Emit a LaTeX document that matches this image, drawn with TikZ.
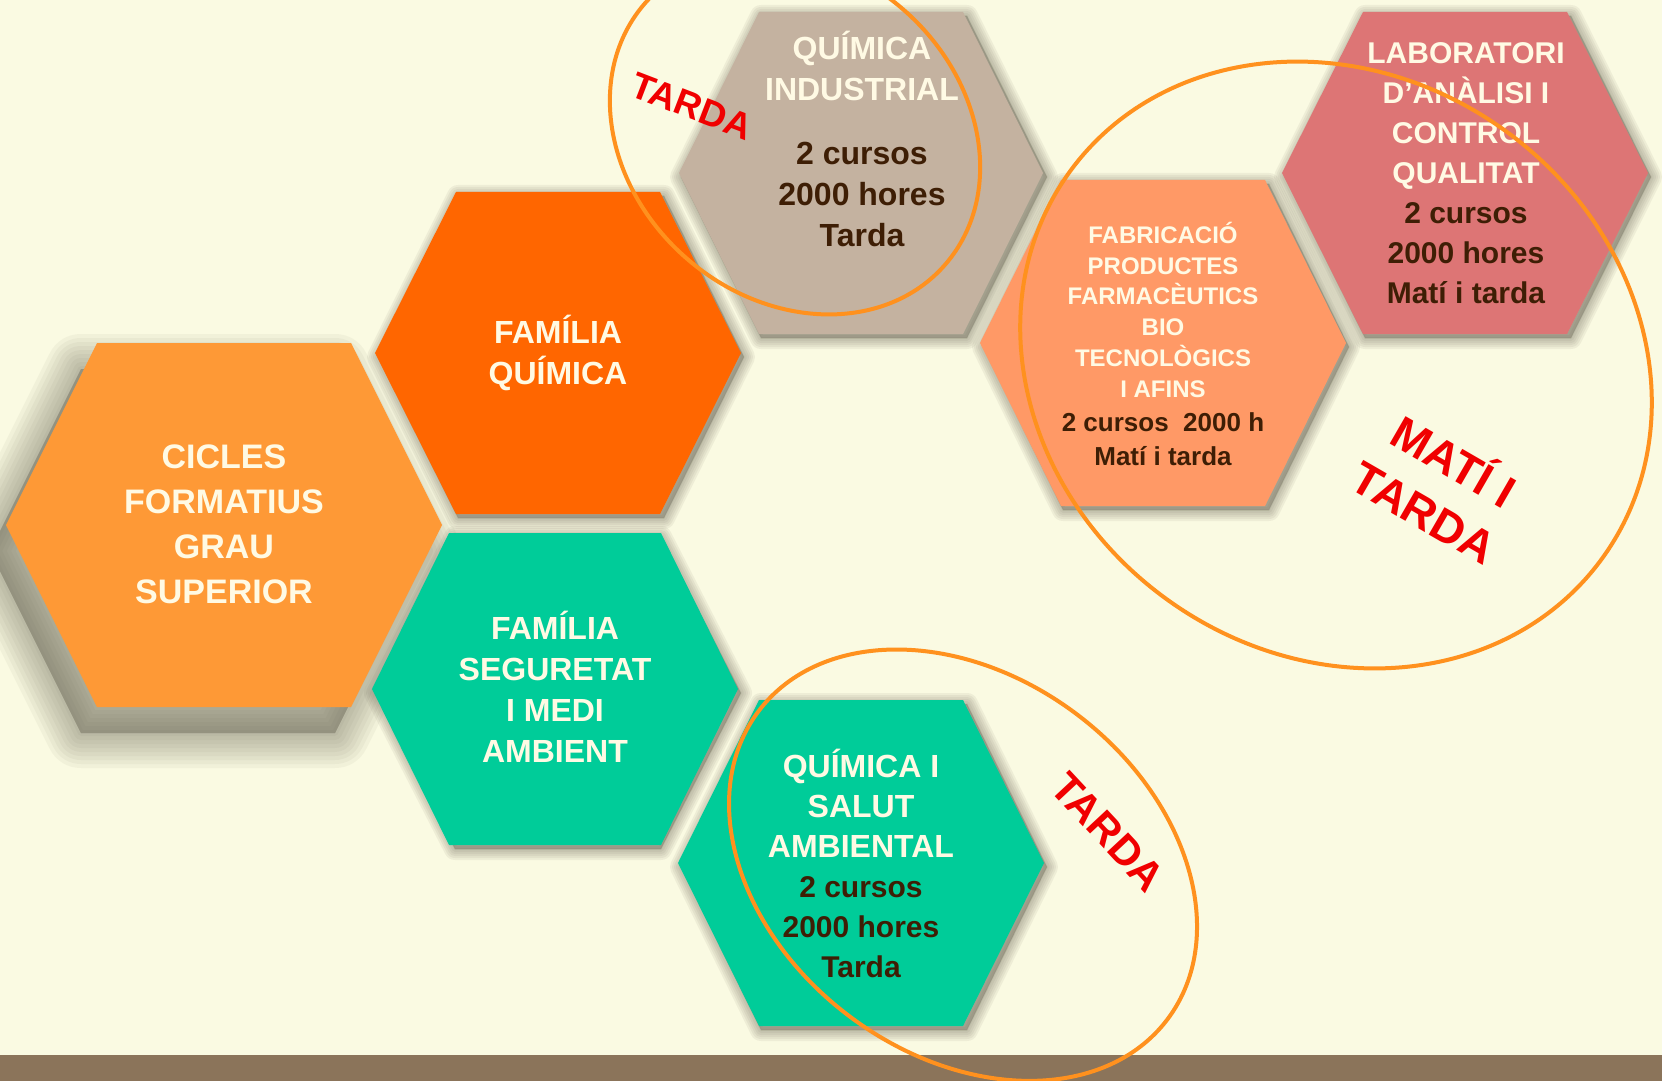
\documentclass[tikz,border=0pt]{standalone}
\usepackage{fontspec}
\setmainfont{Liberation Sans}
\usepackage{xcolor}
\usepackage{tikz}
\usetikzlibrary{positioning}

\definecolor{bgcream}{RGB}{250,250,226}
\definecolor{barbrown}{RGB}{139,116,90}
\definecolor{shadowgrey}{RGB}{100,96,80}
\definecolor{ciclesorange}{RGB}{254,153,54}
\definecolor{famorange}{RGB}{255,102,0}
\definecolor{tealgreen}{RGB}{0,204,153}
\definecolor{taupe}{RGB}{196,178,160}
\definecolor{salmon}{RGB}{255,153,102}
\definecolor{rose}{RGB}{221,117,117}
\definecolor{lighttxt}{RGB}{255,250,228}
\definecolor{darktxt}{RGB}{62,30,5}
\definecolor{ringorange}{RGB}{255,145,30}
\definecolor{markred}{RGB}{240,0,0}

% hexagon: style, centre x, centre y, half width, half top side, half height
\newcommand{\hexa}[6]{\path[#1] (#2-#4,#3) -- (#2-#5,#3-#6) -- (#2+#5,#3-#6) -- (#2+#4,#3) -- (#2+#5,#3+#6) -- (#2-#5,#3+#6) -- cycle;}
\newcommand{\dk}[1]{\textcolor{darktxt}{#1}}

\begin{document}
\begin{tikzpicture}[
    x=0.5pt, y=-0.5pt,
    hexshadow/.style={fill=shadowgrey, draw=shadowgrey, line join=round, opacity=#1},
    hextext/.style={align=center, text=lighttxt, inner sep=0pt, font=\bfseries\fontsize{16}{20.5}\selectfont},
    redlabel/.style={text=markred, inner sep=0pt, font=\bfseries\fontsize{18.5}{22}\selectfont},
    ring/.style={draw=ringorange, line width=2pt}
]
\useasboundingbox (0,0) rectangle (1662,1081);
\clip (0,0) rectangle (1662,1081);
\fill[bgcream] (0,0) rectangle (1662,1081);
\fill[barbrown] (0,1055) rectangle (1662,1081);

% Shadows
\foreach \w in {3,7,...,35}{
  \hexa{hexshadow=0.055, line width=\w pt, shift={(-16,26)}}{224}{525}{218}{127}{182}
}
\foreach \cx/\cy/\hh in {558/353/161, 555/689/156, 861/173/161, 1163/343/163, 1465/173/161, 861/863/163}{
  \foreach \w in {1,3,...,11}{
    \hexa{hexshadow=0.08, line width=\w pt, shift={(3,4)}}{\cx}{\cy}{183}{103}{\hh}
  }
}

% Hexagons
\hexa{fill=ciclesorange}{224}{525}{218}{127}{182}
\hexa{fill=famorange}{558}{353}{183}{102}{161}
\hexa{fill=tealgreen}{555}{689}{183}{106}{156}
\hexa{fill=taupe}{861}{173}{182}{102}{161}
\hexa{fill=salmon}{1163}{343}{183}{102}{163}
\hexa{fill=rose}{1465}{173}{183}{102}{161}
\hexa{fill=tealgreen}{861}{863}{183}{102}{163}

% Texts in the hexagons
\node[hextext, font=\bfseries\fontsize{17}{22.5}\selectfont] (cicles) at (224,524) {CICLES\\FORMATIUS\\GRAU\\SUPERIOR};
\node[hextext] (famquim) at (558,353) {FAMÍLIA\\QUÍMICA};
\node[hextext] (famseg) at (555,687) {FAMÍLIA\\SEGURETAT\\I MEDI\\AMBIENT};
\node[hextext] (quimind) at (862,139) {QUÍMICA\\INDUSTRIAL\\[11.5pt]\dk{2 cursos}\\\dk{2000 hores}\\\dk{Tarda}};
\node[hextext, font=\bfseries\fontsize{12}{15.4}\selectfont] (fabric) at (1163,344)
  {FABRICACIÓ\\PRODUCTES\\FARMACÈUTICS\\BIO\\TECNOLÒGICS\\I AFINS\\[1.5pt]\dk{\fontsize{13}{16}\selectfont 2 cursos~~2000 h}\\[2pt]\dk{\fontsize{13}{16}\selectfont Matí i tarda}};
\node[hextext, font=\bfseries\fontsize{15}{20}\selectfont] (labor) at (1466,173)
  {LABORATORI\\D’ANÀLISI I\\CONTROL\\QUALITAT\\\dk{2 cursos}\\\dk{2000 hores}\\\dk{Matí i tarda}};
\node[hextext, font=\bfseries\fontsize{16}{20}\selectfont] (salut) at (861,863)
  {QUÍMICA I\\SALUT\\AMBIENTAL\\\dk{\fontsize{15}{20}\selectfont 2 cursos}\\\dk{\fontsize{15}{20}\selectfont 2000 hores}\\\dk{\fontsize{15}{20}\selectfont Tarda}};

% Rings
\coordinate (ring1) at (795,134);
\coordinate (ring2) at (1336,365);
\coordinate (ring3) at (963,865);
\draw[ring, rotate around={-41:(ring1)}] (ring1) ellipse [x radius=199, y radius=165];
\draw[ring, rotate around={-36:(ring2)}] (ring2) ellipse [x radius=329, y radius=289];
\draw[ring, rotate around={-37:(ring3)}] (ring3) ellipse [x radius=256, y radius=189];

% Red labels
\node[redlabel, rotate=-21] (tarda1) at (692,106) {TARDA};
\node[redlabel, rotate=-30, align=center, font=\bfseries\fontsize{23}{29.5}\selectfont] (matitarda) at (1441,484) {MATÍ I\\TARDA};
\node[redlabel, rotate=-47, font=\bfseries\fontsize{21}{24}\selectfont] (tarda3) at (1108,832) {TARDA};
\end{tikzpicture}
\end{document}
